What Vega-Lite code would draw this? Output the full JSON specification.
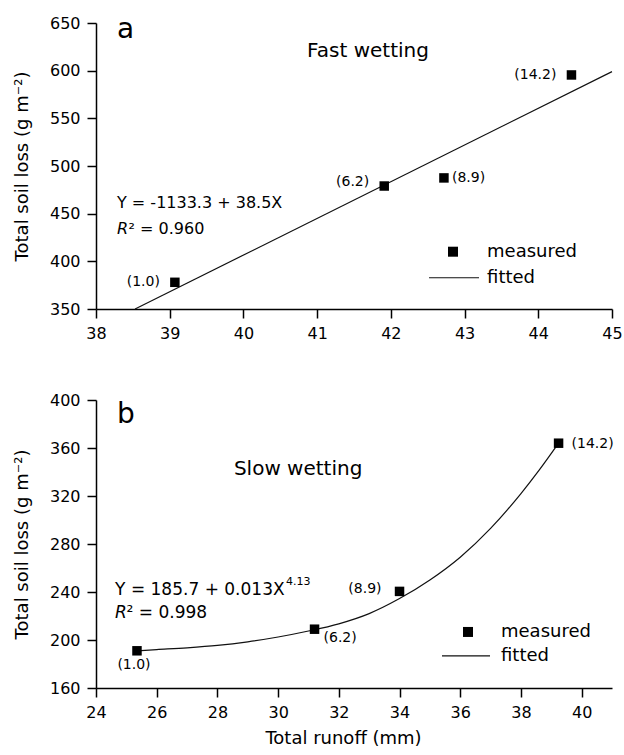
{
  "$schema": "https://vega.github.io/schema/vega-lite/v6.json",
  "background": "white",
  "padding": {"left": 13, "top": 15, "right": 0, "bottom": 0},
  "spacing": 51,
  "config": {
    "font": "DejaVu Sans",
    "view": {"stroke": null},
    "axis": {
      "grid": false,
      "domainColor": "black",
      "domainWidth": 1.5,
      "tickColor": "black",
      "tickWidth": 1.5,
      "labelColor": "black",
      "titleColor": "black",
      "labelFont": "DejaVu Sans",
      "titleFont": "DejaVu Sans",
      "labelFontSize": 16,
      "titleFontSize": 18,
      "titleFontWeight": "normal",
      "labelPadding": 7,
      "labelFlush": false,
      "labelOverlap": false,
      "format": "d"
    },
    "text": {"font": "DejaVu Sans", "color": "black"}
  },
  "datasets": {
    "a_meas": [
      {"runoff": 39.07, "loss": 378, "label": "(1.0)"},
      {"runoff": 41.91, "loss": 479, "label": "(6.2)"},
      {"runoff": 42.72, "loss": 487.5, "label": "(8.9)"},
      {"runoff": 44.45, "loss": 595.5, "label": "(14.2)"}
    ],
    "a_fit": [
      {"runoff": 38.53, "loss": 350},
      {"runoff": 45, "loss": 599}
    ],
    "b_meas": [
      {"runoff": 25.35, "loss": 191, "label": "(1.0)"},
      {"runoff": 31.2, "loss": 209, "label": "(6.2)"},
      {"runoff": 34.0, "loss": 240.5, "label": "(8.9)"},
      {"runoff": 39.24, "loss": 364, "label": "(14.2)"}
    ],
    "b_fit": [
      {"runoff": 25.35, "loss": 191},
      {"runoff": 26, "loss": 192},
      {"runoff": 27, "loss": 193.5},
      {"runoff": 28, "loss": 195.5},
      {"runoff": 29, "loss": 198.5},
      {"runoff": 30, "loss": 202.5},
      {"runoff": 31, "loss": 207.5},
      {"runoff": 32, "loss": 213.5},
      {"runoff": 33, "loss": 222},
      {"runoff": 34, "loss": 234.5},
      {"runoff": 35, "loss": 250},
      {"runoff": 36, "loss": 269},
      {"runoff": 37, "loss": 293},
      {"runoff": 38, "loss": 322},
      {"runoff": 38.6, "loss": 341.5},
      {"runoff": 39.24, "loss": 364}
    ]
  },
  "vconcat": [
    {
      "width": 516,
      "height": 286,
      "layer": [
        {
          "data": {"name": "a_fit"},
          "mark": {"type": "line", "strokeWidth": 1.2, "color": "#111"},
          "encoding": {
            "x": {"field": "runoff", "type": "quantitative",
              "scale": {"domain": [38, 45], "nice": false, "zero": false},
              "axis": {
                "title": null,
                "values": [38, 38.5, 39, 39.5, 40, 40.5, 41, 41.5, 42, 42.5, 43, 43.5, 44, 44.5, 45],
                "labelExpr": "datum.value % 1 === 0 ? datum.label : ''",
                "tickSize": {"condition": {"test": "datum.value % 1 === 0", "value": 9}, "value": 5}
              }
            },
            "y": {"field": "loss", "type": "quantitative",
              "scale": {"domain": [350, 650], "nice": false, "zero": false},
              "axis": {
                "title": "Total soil loss (g m⁻²)",
                "titlePadding": 18,
                "values": [350, 375, 400, 425, 450, 475, 500, 525, 550, 575, 600, 625, 650],
                "labelExpr": "datum.value % 50 === 0 ? datum.label : ''",
                "tickSize": {"condition": {"test": "datum.value % 50 === 0", "value": 9}, "value": 5}
              }
            }
          }
        },
        {
          "data": {"name": "a_meas"},
          "mark": {"type": "point", "shape": "square", "filled": true, "size": 90, "opacity": 1, "color": "black"},
          "encoding": {
            "x": {"field": "runoff", "type": "quantitative"},
            "y": {"field": "loss", "type": "quantitative"}
          }
        },
        {
          "data": {"name": "a_meas"},
          "transform": [{"filter": "datum.label === '(1.0)' || datum.label === '(14.2)'"}],
          "mark": {"type": "text", "align": "right", "baseline": "middle", "dx": -15, "dy": 0, "fontSize": 14},
          "encoding": {
            "x": {"field": "runoff", "type": "quantitative"},
            "y": {"field": "loss", "type": "quantitative"},
            "text": {"field": "label"}
          }
        },
        {
          "data": {"name": "a_meas"},
          "transform": [{"filter": "datum.label === '(6.2)'"}],
          "mark": {"type": "text", "align": "right", "baseline": "middle", "dx": -15, "dy": -4, "fontSize": 14},
          "encoding": {
            "x": {"field": "runoff", "type": "quantitative"},
            "y": {"field": "loss", "type": "quantitative"},
            "text": {"field": "label"}
          }
        },
        {
          "data": {"name": "a_meas"},
          "transform": [{"filter": "datum.label === '(8.9)'"}],
          "mark": {"type": "text", "align": "left", "baseline": "middle", "dx": 8, "dy": 0, "fontSize": 14},
          "encoding": {
            "x": {"field": "runoff", "type": "quantitative"},
            "y": {"field": "loss", "type": "quantitative"},
            "text": {"field": "label"}
          }
        },
        {
          "data": {"values": [{}]},
          "mark": {"type": "text", "text": "a", "align": "left", "baseline": "alphabetic", "fontSize": 28},
          "encoding": {"x": {"datum": 38.285, "type": "quantitative"}, "y": {"datum": 634.3, "type": "quantitative"}}
        },
        {
          "data": {"values": [{}]},
          "mark": {"type": "text", "text": "Fast wetting", "align": "center", "baseline": "alphabetic", "fontSize": 20},
          "encoding": {"x": {"datum": 41.69, "type": "quantitative"}, "y": {"datum": 614.3, "type": "quantitative"}}
        },
        {
          "data": {"values": [{}]},
          "mark": {"type": "text", "text": "Y = -1133.3 + 38.5X", "align": "left", "baseline": "alphabetic", "fontSize": 16},
          "encoding": {"x": {"datum": 38.285, "type": "quantitative"}, "y": {"datum": 456, "type": "quantitative"}}
        },
        {
          "data": {"values": [{}]},
          "mark": {"type": "text", "text": "R", "align": "left", "baseline": "alphabetic", "fontSize": 16, "fontStyle": "italic"},
          "encoding": {"x": {"datum": 38.285, "type": "quantitative"}, "y": {"datum": 429, "type": "quantitative"}}
        },
        {
          "data": {"values": [{}]},
          "mark": {"type": "text", "text": "² = 0.960", "align": "left", "baseline": "alphabetic", "fontSize": 16},
          "encoding": {"x": {"datum": 38.441, "type": "quantitative"}, "y": {"datum": 429, "type": "quantitative"}}
        },
        {
          "data": {"values": [{}]},
          "mark": {"type": "point", "shape": "square", "filled": true, "size": 100, "opacity": 1, "color": "black"},
          "encoding": {"x": {"datum": 42.843, "type": "quantitative"}, "y": {"datum": 410.1, "type": "quantitative"}}
        },
        {
          "data": {"values": [{}]},
          "mark": {"type": "rule", "strokeWidth": 1.2, "color": "#111"},
          "encoding": {"x": {"datum": 42.518, "type": "quantitative"}, "x2": {"datum": 43.196}, "y": {"datum": 382.8, "type": "quantitative"}}
        },
        {
          "data": {"values": [{}]},
          "mark": {"type": "text", "text": "measured", "align": "left", "baseline": "middle", "fontSize": 18},
          "encoding": {"x": {"datum": 43.305, "type": "quantitative"}, "y": {"datum": 410.1, "type": "quantitative"}}
        },
        {
          "data": {"values": [{}]},
          "mark": {"type": "text", "text": "fitted", "align": "left", "baseline": "middle", "fontSize": 18},
          "encoding": {"x": {"datum": 43.305, "type": "quantitative"}, "y": {"datum": 382.8, "type": "quantitative"}}
        }
      ]
    },
    {
      "width": 516,
      "height": 288,
      "layer": [
        {
          "data": {"name": "b_fit"},
          "mark": {"type": "line", "strokeWidth": 1.2, "interpolate": "monotone", "color": "#111"},
          "encoding": {
            "x": {"field": "runoff", "type": "quantitative",
              "scale": {"domain": [24, 41], "nice": false, "zero": false},
              "axis": {
                "title": "Total runoff (mm)",
                "titlePadding": 9,
                "titleX": 247,
                "values": [24, 25, 26, 27, 28, 29, 30, 31, 32, 33, 34, 35, 36, 37, 38, 39, 40, 41],
                "labelExpr": "datum.value % 2 === 0 ? datum.label : ''",
                "tickSize": {"condition": {"test": "datum.value % 2 === 0", "value": 9}, "value": 5}
              }
            },
            "y": {"field": "loss", "type": "quantitative",
              "scale": {"domain": [160, 400], "nice": false, "zero": false},
              "axis": {
                "title": "Total soil loss (g m⁻²)",
                "titlePadding": 18,
                "values": [160, 180, 200, 220, 240, 260, 280, 300, 320, 340, 360, 380, 400],
                "labelExpr": "datum.value % 40 === 0 ? datum.label : ''",
                "tickSize": {"condition": {"test": "datum.value % 40 === 0", "value": 9}, "value": 5}
              }
            }
          }
        },
        {
          "data": {"name": "b_meas"},
          "mark": {"type": "point", "shape": "square", "filled": true, "size": 90, "opacity": 1, "color": "black"},
          "encoding": {
            "x": {"field": "runoff", "type": "quantitative"},
            "y": {"field": "loss", "type": "quantitative"}
          }
        },
        {
          "data": {"name": "b_meas"},
          "transform": [{"filter": "datum.label === '(1.0)'"}],
          "mark": {"type": "text", "align": "center", "baseline": "middle", "dx": -3, "dy": 14, "fontSize": 14},
          "encoding": {
            "x": {"field": "runoff", "type": "quantitative"},
            "y": {"field": "loss", "type": "quantitative"},
            "text": {"field": "label"}
          }
        },
        {
          "data": {"name": "b_meas"},
          "transform": [{"filter": "datum.label === '(6.2)'"}],
          "mark": {"type": "text", "align": "left", "baseline": "middle", "dx": 9, "dy": 9, "fontSize": 14},
          "encoding": {
            "x": {"field": "runoff", "type": "quantitative"},
            "y": {"field": "loss", "type": "quantitative"},
            "text": {"field": "label"}
          }
        },
        {
          "data": {"name": "b_meas"},
          "transform": [{"filter": "datum.label === '(8.9)'"}],
          "mark": {"type": "text", "align": "right", "baseline": "middle", "dx": -18, "dy": -2, "fontSize": 14},
          "encoding": {
            "x": {"field": "runoff", "type": "quantitative"},
            "y": {"field": "loss", "type": "quantitative"},
            "text": {"field": "label"}
          }
        },
        {
          "data": {"name": "b_meas"},
          "transform": [{"filter": "datum.label === '(14.2)'"}],
          "mark": {"type": "text", "align": "left", "baseline": "middle", "dx": 13, "dy": 1, "fontSize": 14},
          "encoding": {
            "x": {"field": "runoff", "type": "quantitative"},
            "y": {"field": "loss", "type": "quantitative"},
            "text": {"field": "label"}
          }
        },
        {
          "data": {"values": [{}]},
          "mark": {"type": "text", "text": "b", "align": "left", "baseline": "alphabetic", "fontSize": 28},
          "encoding": {"x": {"datum": 24.69, "type": "quantitative"}, "y": {"datum": 380.8, "type": "quantitative"}}
        },
        {
          "data": {"values": [{}]},
          "mark": {"type": "text", "text": "Slow wetting", "align": "center", "baseline": "alphabetic", "fontSize": 20},
          "encoding": {"x": {"datum": 30.66, "type": "quantitative"}, "y": {"datum": 337.5, "type": "quantitative"}}
        },
        {
          "data": {"values": [{}]},
          "mark": {"type": "text", "text": "Y = 185.7 + 0.013X", "align": "left", "baseline": "alphabetic", "fontSize": 17},
          "encoding": {"x": {"datum": 24.63, "type": "quantitative"}, "y": {"datum": 237.5, "type": "quantitative"}}
        },
        {
          "data": {"values": [{}]},
          "mark": {"type": "text", "text": "4.13", "align": "left", "baseline": "alphabetic", "fontSize": 11},
          "encoding": {"x": {"datum": 30.26, "type": "quantitative"}, "y": {"datum": 245.8, "type": "quantitative"}}
        },
        {
          "data": {"values": [{}]},
          "mark": {"type": "text", "text": "R", "align": "left", "baseline": "alphabetic", "fontSize": 17, "fontStyle": "italic"},
          "encoding": {"x": {"datum": 24.63, "type": "quantitative"}, "y": {"datum": 218.3, "type": "quantitative"}}
        },
        {
          "data": {"values": [{}]},
          "mark": {"type": "text", "text": "² = 0.998", "align": "left", "baseline": "alphabetic", "fontSize": 17},
          "encoding": {"x": {"datum": 25.008, "type": "quantitative"}, "y": {"datum": 218.3, "type": "quantitative"}}
        },
        {
          "data": {"values": [{}]},
          "mark": {"type": "point", "shape": "square", "filled": true, "size": 100, "opacity": 1, "color": "black"},
          "encoding": {"x": {"datum": 36.256, "type": "quantitative"}, "y": {"datum": 206.7, "type": "quantitative"}}
        },
        {
          "data": {"values": [{}]},
          "mark": {"type": "rule", "strokeWidth": 1.2, "color": "#111"},
          "encoding": {"x": {"datum": 35.399, "type": "quantitative"}, "x2": {"datum": 36.981}, "y": {"datum": 186.7, "type": "quantitative"}}
        },
        {
          "data": {"values": [{}]},
          "mark": {"type": "text", "text": "measured", "align": "left", "baseline": "middle", "fontSize": 18},
          "encoding": {"x": {"datum": 37.343, "type": "quantitative"}, "y": {"datum": 206.7, "type": "quantitative"}}
        },
        {
          "data": {"values": [{}]},
          "mark": {"type": "text", "text": "fitted", "align": "left", "baseline": "middle", "fontSize": 18},
          "encoding": {"x": {"datum": 37.343, "type": "quantitative"}, "y": {"datum": 186.7, "type": "quantitative"}}
        }
      ]
    }
  ]
}
